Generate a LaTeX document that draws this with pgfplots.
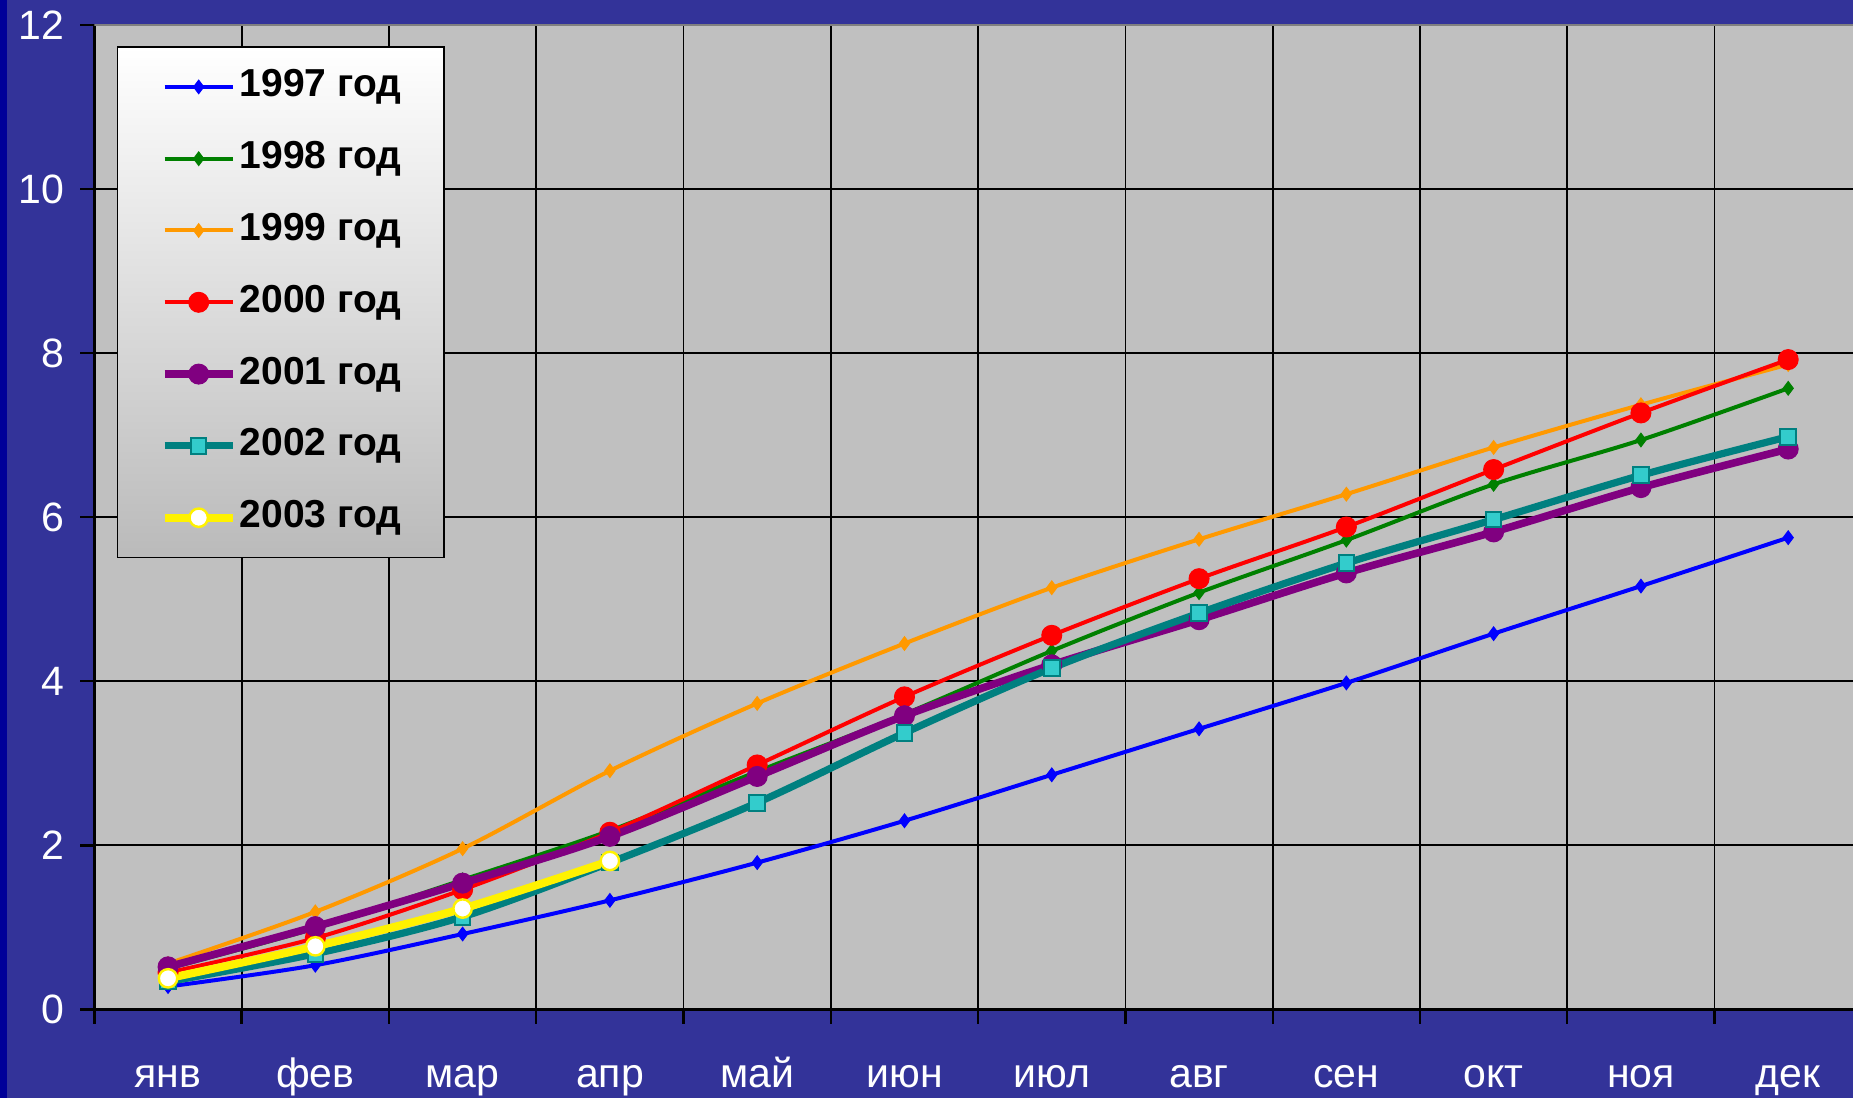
\documentclass[border=0pt]{standalone}
\usepackage{pgfplots}
\pgfplotsset{compat=1.18}
\usepackage{fontspec}
\setmainfont{Liberation Sans}
\definecolor{bgblue}{HTML}{333399}
\definecolor{stripblue}{HTML}{000099}
\definecolor{plotgray}{HTML}{C0C0C0}
\definecolor{cOrange}{HTML}{FF9900}
\definecolor{cGreen}{HTML}{008000}
\definecolor{cPurple}{HTML}{800080}
\definecolor{cTeal}{HTML}{008080}
\definecolor{cCyan}{HTML}{33CCCC}

\pgfplotstableread{
m    y1997 y1998 y1999 y2000 y2001 y2002
0    0.28  0.50  0.56  0.45  0.52  0.34
1    0.54  0.99  1.19  0.87  1.01  0.68
2    0.92  1.58  1.96  1.46  1.54  1.13
3    1.33  2.18  2.91  2.16  2.11  1.79
4    1.79  2.90  3.73  2.98  2.84  2.52
5    2.30  3.60  4.46  3.81  3.58  3.37
6    2.86  4.37  5.14  4.56  4.20  4.16
7    3.42  5.08  5.73  5.25  4.75  4.83
8    3.98  5.72  6.28  5.88  5.32  5.44
9    4.58  6.40  6.85  6.58  5.82  5.97
10   5.16  6.94  7.37  7.27  6.36  6.51
11   5.75  7.57  7.86  7.92  6.83  6.98
}\maindata

\pgfplotstableread{
m    y2003
0    0.38
1    0.77
2    1.23
3    1.81
}\dataB

\begin{document}
\begin{tikzpicture}
\useasboundingbox (-47.2pt,-44.25pt) rectangle (879.3pt,504.75pt);
\fill[bgblue] (-47.2pt,-44.25pt) rectangle (879.3pt,504.75pt);
\fill[stripblue] (-47.2pt,-44.25pt) rectangle (-43.8pt,504.75pt);
\begin{axis}[
  at={(0pt,0pt)}, anchor=south west,
  scale only axis, width=879.3pt, height=492.35pt,
  xmin=-0.5, xmax=11.44, ymin=0, ymax=12,
  axis x line*=bottom, axis y line*=left,
  axis line style={-, black, line width=1.5pt},
  axis background/.style={fill=plotgray},
  xtick={0,...,11},
  xticklabels={янв,фев,мар,апр,май,июн,июл,авг,сен,окт,ноя,дек},
  minor xtick={-0.5,0.5,...,10.5},
  xminorgrids=true, xmajorgrids=false,
  ytick={0,2,...,12}, ymajorgrids=true,
  grid style={black, line width=0.9pt},
  minor grid style={black, line width=0.9pt},
  tick align=outside,
  major tick length=7pt, minor tick length=7pt,
  major x tick style={draw=none},
  minor x tick style={black, line width=1.2pt},
  ytick style={black, line width=1.2pt},
  /pgf/number format/assume math mode=true,
  ticklabel style={text=white, font=\fontsize{20.5pt}{24pt}\selectfont},
  xticklabel style={anchor=base, yshift=-32pt},
  yticklabel style={xshift=-4.5pt},
  legend cell align=left,
  legend style={
    at={(axis description cs:0,1)}, anchor=north west,
    xshift=11.3pt, yshift=-10.7pt,
    draw=black, line width=0.7pt,
    top color=white, bottom color=black!27,
    inner xsep=21.5pt, inner ysep=11pt,
    row sep=17.9pt, column sep=1.5pt,
    font=\fontsize{19.5pt}{23pt}\selectfont\bfseries,
    nodes={inner sep=0pt, text height=14pt, text depth=4pt},
  },
  legend image code/.code={\draw[mark repeat=2, mark phase=2, #1] plot coordinates {(0pt,0pt) (17pt,0pt) (34pt,0pt)};},
  every axis plot/.append style={smooth, tension=0.5},
]
\addplot[blue, line width=2pt, mark=diamond*, mark size=3.4pt, mark options={solid, fill=blue, line width=0.5pt}] table[x=m, y=y1997] {\maindata};
\addlegendentry{1997 год}
\addplot[cGreen, line width=2pt, mark=diamond*, mark size=3.4pt, mark options={solid, fill=cGreen, line width=0.5pt}] table[x=m, y=y1998] {\maindata};
\addlegendentry{1998 год}
\addplot[cOrange, line width=2pt, mark=diamond*, mark size=3.4pt, mark options={solid, fill=cOrange, line width=0.5pt}] table[x=m, y=y1999] {\maindata};
\addlegendentry{1999 год}
\addplot[red, line width=2pt, mark=*, mark size=5pt, mark options={solid, fill=red, draw=red, line width=0.5pt}] table[x=m, y=y2000] {\maindata};
\addlegendentry{2000 год}
\addplot[cPurple, line width=3.8pt, mark=*, mark size=5pt, mark options={solid, fill=cPurple, draw=cPurple, line width=0.5pt}] table[x=m, y=y2001] {\maindata};
\addlegendentry{2001 год}
\addplot[cTeal, line width=3.6pt, mark=square*, mark size=3.9pt, mark options={solid, fill=cCyan, draw=cTeal, line width=1pt}] table[x=m, y=y2002] {\maindata};
\addlegendentry{2002 год}
\addplot[yellow, line width=4pt, mark=*, mark size=4.6pt, mark options={solid, fill=white, draw=yellow, line width=1.2pt}] table[x=m, y=y2003] {\dataB};
\addlegendentry{2003 год}
\draw[gray, line width=1pt] (rel axis cs:0,1) -- (rel axis cs:1,1);
\end{axis}
\end{tikzpicture}
\end{document}
